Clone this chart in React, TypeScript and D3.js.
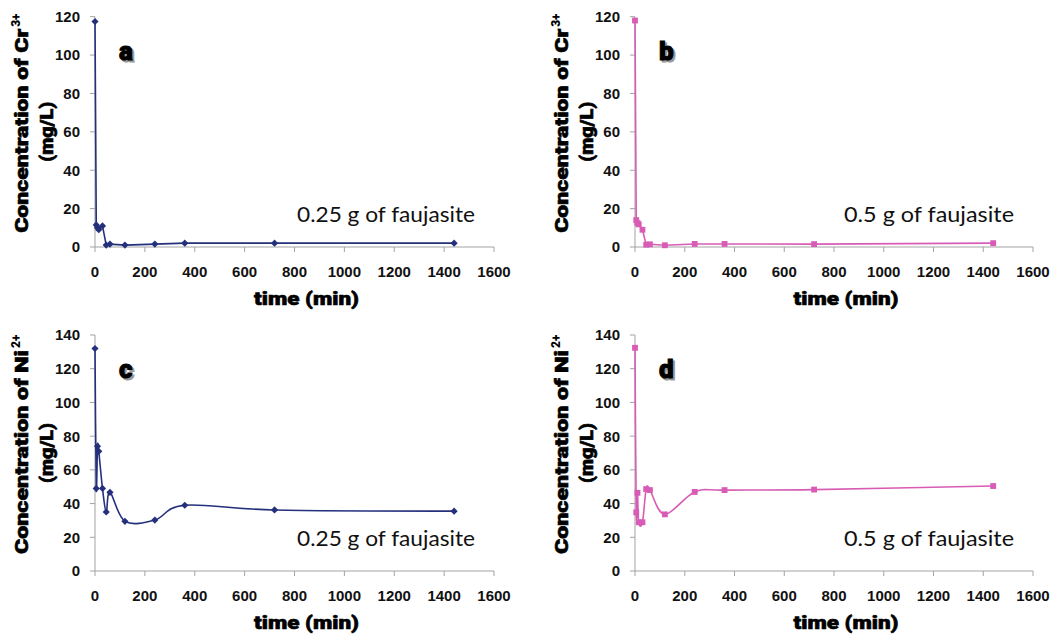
import * as d3 from 'd3';

// sampling times (min), shared by all four runs
const times = [0, 5, 10, 15, 30, 45, 60, 120, 240, 360, 720, 1440];

// Cr3+ concentration (mg/L)
const crLow = [117.5, 11.5, 10, 9, 11, 1, 1.5, 1, 1.5, 2, 2, 2];
const crHigh = [118, 14, 12.5, 11.8, 9, 1.2, 1.4, 0.9, 1.6, 1.6, 1.5, 2];

// Ni2+ concentration (mg/L)
const niLow = [132, 49, 74, 71, 49, 35, 46.7, 29.5, 30.2, 39, 36.2, 35.5];
const niHigh = [132.4, 34.8, 46.4, 28.9, 28.9, 48.6, 48, 33.6, 46.9, 48, 48.3, 50.4];

const xTicks = [0, 200, 400, 600, 800, 1000, 1200, 1400, 1600];
const crTicks = [0, 20, 40, 60, 80, 100, 120];
const niTicks = [0, 20, 40, 60, 80, 100, 120, 140];

const NAVY = '#25307c';
const PINK = '#d85cb5';
const AXIS = '#a3a3a3';
const HEAVY = "'Roboto', 'DejaVu Sans', sans-serif";

type PanelCfg = {
  letter: string;
  values: number[];
  yTicks: number[];
  ion: string;
  charge: string;
  mass: string;
  color: string;
  marker: 'diamond' | 'square';
  smooth: boolean;
  left: number;
  right: number;
  top: number;
  bottom: number;
};

const panels: PanelCfg[] = [
  { letter: 'a', values: crLow, yTicks: crTicks, ion: 'Cr', charge: '3+', mass: '0.25 g of faujasite', color: NAVY, marker: 'diamond', smooth: false, left: 95, right: 494, top: 16.7, bottom: 247 },
  { letter: 'b', values: crHigh, yTicks: crTicks, ion: 'Cr', charge: '3+', mass: '0.5 g of faujasite', color: PINK, marker: 'square', smooth: false, left: 635, right: 1033, top: 16.7, bottom: 247 },
  { letter: 'c', values: niLow, yTicks: niTicks, ion: 'Ni', charge: '2+', mass: '0.25 g of faujasite', color: NAVY, marker: 'diamond', smooth: true, left: 95, right: 494, top: 335, bottom: 571 },
  { letter: 'd', values: niHigh, yTicks: niTicks, ion: 'Ni', charge: '2+', mass: '0.5 g of faujasite', color: PINK, marker: 'square', smooth: true, left: 635, right: 1033, top: 335, bottom: 571 },
];

function Panel({ cfg }: { cfg: PanelCfg }) {
  const x = d3.scaleLinear().domain([0, 1600]).range([cfg.left, cfg.right]);
  const yMax = cfg.yTicks[cfg.yTicks.length - 1];
  const y = d3.scaleLinear().domain([0, yMax]).range([cfg.bottom, cfg.top]);

  const pts = times.map((t, i) => [t, cfg.values[i]] as [number, number]);
  const line = d3
    .line<[number, number]>()
    .x((d) => x(d[0]))
    .y((d) => y(d[1]))
    .curve(cfg.smooth ? d3.curveCardinal : d3.curveLinear);

  const sym = d3.symbol().type(d3.symbolSquare).size(cfg.marker === 'diamond' ? 26 : 34)();
  const midX = (cfg.left + cfg.right) / 2;
  const midY = (cfg.top + cfg.bottom) / 2;
  const titleX = cfg.left - 67; // baseline of first rotated line

  return (
    <g>
      {/* axes */}
      <line x1={cfg.left} x2={cfg.left} y1={cfg.top} y2={cfg.bottom} stroke={AXIS} />
      <line x1={cfg.left} x2={cfg.right} y1={cfg.bottom} y2={cfg.bottom} stroke={AXIS} />
      {cfg.yTicks.map((t) => (
        <g key={'y' + t}>
          <line x1={cfg.left - 5} x2={cfg.left} y1={y(t)} y2={y(t)} stroke={AXIS} />
          <text x={cfg.left - 15} y={y(t)} dy="0.36em" textAnchor="end" fontSize={15} fontWeight="bold"
            fontFamily="'Liberation Sans', Arial, sans-serif" fill="#111">{t}</text>
        </g>
      ))}
      {xTicks.map((t) => (
        <g key={'x' + t}>
          <line x1={x(t)} x2={x(t)} y1={cfg.bottom} y2={cfg.bottom + 5} stroke={AXIS} />
          <text x={x(t)} y={cfg.bottom + 30} textAnchor="middle" fontSize={15} fontWeight="bold"
            fontFamily="'Liberation Sans', Arial, sans-serif" fill="#111">{t}</text>
        </g>
      ))}

      {/* series */}
      <path d={line(pts) ?? ''} fill="none" stroke={cfg.color} strokeWidth={1.6} />
      {pts.map((p, i) => (
        <path key={i} d={sym} fill={cfg.color}
          transform={`translate(${x(p[0])},${y(p[1])})${cfg.marker === 'diamond' ? ' rotate(45)' : ''}`} />
      ))}

      {/* titles */}
      <text x={midX + 12} y={cfg.bottom + 58} textAnchor="middle" fontSize={18} fontWeight={900}
        fontFamily={HEAVY} textLength={105} lengthAdjust="spacingAndGlyphs" fill="#000"
        stroke="#000" strokeWidth={0.6}>time (min)</text>
      <g transform={`translate(${titleX},${midY + 101}) rotate(-90)`}>
        <text x={0} y={0} fontSize={18} fontWeight={900} fontFamily={HEAVY} textLength={204}
          lengthAdjust="spacingAndGlyphs" fill="#000" stroke="#000" strokeWidth={0.6}>{`Concentration of ${cfg.ion}`}</text>
        <text x={206} y={-8} fontSize={12} fontWeight={900} fontFamily={HEAVY} fill="#000">{cfg.charge}</text>
      </g>
      <text transform={`translate(${cfg.left - 42},${midY}) rotate(-90)`} textAnchor="middle" fontSize={18}
        fontWeight={900} fontFamily={HEAVY} textLength={60} lengthAdjust="spacingAndGlyphs" fill="#000"
        stroke="#000" strokeWidth={0.6}>(mg/L)</text>

      {/* panel letter with soft shadow */}
      <text x={cfg.left + 26} y={cfg.top + 45} fontSize={26} fontWeight={900} fontFamily={HEAVY} fill="#9a9a9a"
        stroke="#9a9a9a" strokeWidth={1}>{cfg.letter}</text>
      <text x={cfg.left + 24} y={cfg.top + 43} fontSize={26} fontWeight={900} fontFamily={HEAVY} fill="#000"
        stroke="#000" strokeWidth={1}>{cfg.letter}</text>

      {/* sorbent mass */}
      <text x={cfg.right - 19} y={cfg.bottom - 25} textAnchor="end" fontSize={21} fontFamily="'Lato', 'Open Sans', sans-serif"
        textLength={cfg.mass.length > 18 ? 178 : 170} lengthAdjust="spacingAndGlyphs" fill="#111">{cfg.mass}</text>
    </g>
  );
}

export default function App() {
  return (
    <svg width={1056} height={634} style={{ position: 'absolute', left: 0, top: 0, background: '#fff' }}>
      <rect width={1056} height={634} fill="#fff" />
      {panels.map((p) => (
        <Panel key={p.letter} cfg={p} />
      ))}
    </svg>
  );
}
